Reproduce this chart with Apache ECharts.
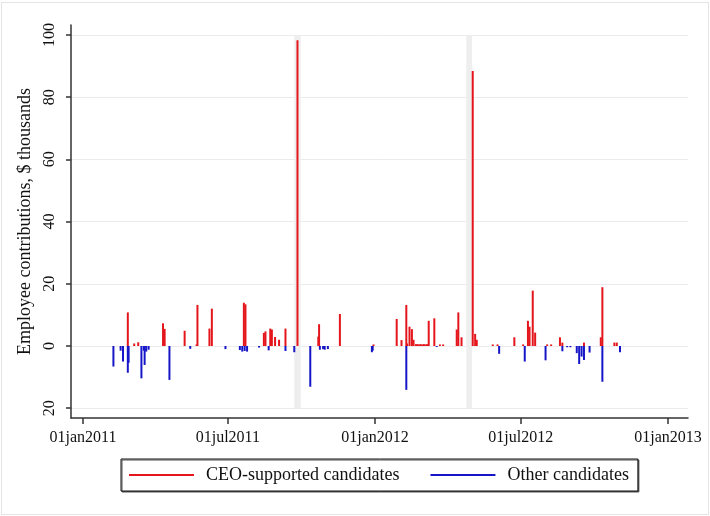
<!DOCTYPE html>
<html>
<head>
<meta charset="utf-8">
<title>Employee contributions</title>
<script src="https://cdn.jsdelivr.net/npm/echarts@6/dist/echarts.min.js"></script>
<style>
    html, body { margin: 0; padding: 0; background: #fff; }
    #frame { position: absolute; left: 1px; top: 2px; width: 706px; height: 511px; border: 1px solid #e4e4e4; }
    #contrib-chart { position: absolute; left: 0; top: 0; width: 710px; height: 516px; }
</style>
</head>
<body>
<div id="frame"></div>
<div id="contrib-chart"></div>
<script>
// CEO-supported candidates (daily totals, $ thousands)
var ceoDates = ['2011-02-26', '2011-03-06', '2011-03-11', '2011-04-11', '2011-04-13', '2011-05-08', '2011-05-23',
    '2011-05-24', '2011-06-08', '2011-06-11', '2011-07-21', '2011-07-23', '2011-08-15', '2011-08-17', '2011-08-23',
    '2011-08-25', '2011-08-29', '2011-09-03', '2011-09-11', '2011-09-26', '2011-10-22', '2011-10-23', '2011-11-18',
    '2011-12-30', '2012-01-28', '2012-02-03', '2012-02-09', '2012-02-10', '2012-02-13', '2012-02-16', '2012-02-18',
    '2012-02-21', '2012-02-23', '2012-02-25', '2012-02-27', '2012-02-29', '2012-03-02', '2012-03-04', '2012-03-06',
    '2012-03-08', '2012-03-15', '2012-03-22', '2012-03-26', '2012-04-12', '2012-04-14', '2012-04-18', '2012-05-02',
    '2012-05-05', '2012-05-07', '2012-05-27', '2012-06-02', '2012-06-23', '2012-07-04', '2012-07-10', '2012-07-12',
    '2012-07-16', '2012-07-19', '2012-08-03', '2012-08-08', '2012-08-19', '2012-08-22', '2012-09-18', '2012-10-09',
    '2012-10-11', '2012-10-26', '2012-10-29'];
var ceoValues = [10.8, 0.8, 1.2, 7.3, 5.5, 4.9, 0.5,
    13.2, 5.6, 12.0, 13.9, 13.4, 4.2, 4.7, 5.6,
    5.3, 2.9, 2.0, 5.6, 98.3, 3.0, 7.0, 10.3,
    0.5, 8.7, 1.9, 13.2, 0.8, 6.2, 5.4, 2.0,
    0.6, 0.6, 0.5, 0.6, 0.5, 0.6, 0.5, 0.6,
    8.1, 8.9, 0.5, 0.5, 5.3, 10.8, 2.8, 88.4,
    3.9, 2.0, 0.5, 0.5, 2.8, 0.5, 8.1, 6.2,
    17.8, 4.3, 0.5, 0.5, 2.8, 1.1, 1.1, 2.8,
    18.9, 1.1, 1.1];

// other candidates (shown below zero)
var otherDates = ['2011-02-08', '2011-02-17', '2011-02-20', '2011-02-26', '2011-02-27', '2011-03-15', '2011-03-18',
    '2011-03-19', '2011-03-21', '2011-03-24', '2011-04-19', '2011-05-15', '2011-06-28', '2011-07-16', '2011-07-19',
    '2011-07-22', '2011-07-25', '2011-08-09', '2011-08-21', '2011-09-11', '2011-09-22', '2011-10-12', '2011-10-24',
    '2011-10-28', '2011-10-30', '2011-11-03', '2011-12-28', '2011-12-29', '2012-02-09', '2012-03-18', '2012-06-04',
    '2012-07-06', '2012-08-01', '2012-08-22', '2012-08-28', '2012-09-01', '2012-09-09', '2012-09-12', '2012-09-15',
    '2012-09-18', '2012-09-25', '2012-10-11', '2012-11-02'];
var otherValues = [-6.6, -1.5, -5.0, -8.6, -5.4, -10.4, -1.5,
    -6.1, -1.8, -1.2, -10.9, -0.9, -1.0, -1.3, -1.8,
    -1.6, -1.8, -0.5, -1.4, -1.6, -2.0, -13.1, -1.2,
    -1.0, -1.2, -1.0, -2.0, -1.5, -14.1, -0.3, -2.5,
    -5.0, -4.6, -1.7, -0.4, -0.4, -2.3, -5.8, -3.4,
    -4.5, -2.1, -11.5, -2.0];

// shaded event windows
var bandStarts = ['2011-09-22', '2012-04-24'];
var bandEnds = ['2011-09-30', '2012-05-01'];

var xTicks = ['2011-01-01', '2011-07-01', '2012-01-01', '2012-07-01', '2013-01-01'];
var yTicks = [-20, 0, 20, 40, 60, 80, 100];
var monthNames = ['jan', 'feb', 'mar', 'apr', 'may', 'jun', 'jul', 'aug', 'sep', 'oct', 'nov', 'dec'];

var serif = 'Liberation Serif';

function toTime(s) {
    var p = s.split('-');
    return new Date(+p[0], +p[1] - 1, +p[2]).getTime();
}

function stataDate(v) {
    var d = new Date(v);
    var day = d.getDate() < 10 ? '0' + d.getDate() : '' + d.getDate();
    return day + monthNames[d.getMonth()] + d.getFullYear();
}

var chart = echarts.init(document.getElementById('contrib-chart'));

var bands = [];
for (var i = 0; i < bandStarts.length; i++) {
    bands.push([{xAxis: toTime(bandStarts[i]), yAxis: -20}, {xAxis: toTime(bandEnds[i]), yAxis: 100}]);
}

var option = {
    animation: false,
    backgroundColor: 'transparent',
    grid: {left: 71, right: 22, top: 25, bottom: 98},
    legend: {
        left: 121,
        top: 459,
        padding: [7, 9, 7, 8],
        borderColor: '#111',
        borderWidth: 1,
        backgroundColor: '#fff',
        shadowColor: '#555',
        shadowOffsetX: 1,
        shadowOffsetY: 1,
        icon: 'rect',
        itemWidth: 65,
        itemHeight: 2,
        itemGap: 31,
        textStyle: {fontFamily: serif, fontSize: 18, color: '#111', padding: [0, 0, 0, 7]},
        data: ['CEO-supported candidates', 'Other candidates']
    },
    xAxis: {
        type: 'value',
        min: toTime('2010-12-17'),
        max: toTime('2013-01-26'),
        axisLine: {onZero: false, lineStyle: {color: '#333', width: 1.5}},
        axisTick: {customValues: xTicks.map(toTime), length: 6, lineStyle: {color: '#333', width: 1.5}},
        axisLabel: {
            customValues: xTicks.map(toTime),
            formatter: stataDate,
            margin: 12,
            fontFamily: serif,
            fontSize: 16,
            color: '#111'
        },
        splitLine: {show: false}
    },
    yAxis: {
        type: 'value',
        min: -23.15,
        max: 103.2,
        name: 'Employee contributions, $ thousands',
        nameLocation: 'middle',
        nameGap: 28,
        nameTextStyle: {fontFamily: serif, fontSize: 18, color: '#111'},
        axisLine: {show: true, lineStyle: {color: '#333', width: 1.5}},
        axisTick: {show: true, customValues: yTicks, length: 5, lineStyle: {color: '#333', width: 1.5}},
        axisLabel: {
            customValues: yTicks,
            rotate: 90,
            margin: 13,
            fontFamily: serif,
            fontSize: 16,
            color: '#111',
            formatter: function (v) { return '' + Math.abs(v); }
        },
        splitLine: {show: true, lineStyle: {color: '#ebebeb', width: 1}}
    },
    series: [
        {
            name: 'CEO-supported candidates',
            type: 'bar',
            barWidth: 2,
            barGap: '-100%',
            itemStyle: {color: '#e4161c'},
            data: ceoDates.map(function (d, k) { return [toTime(d), ceoValues[k]]; }),
            markArea: {
                silent: true,
                itemStyle: {color: '#eeeeee'},
                data: bands
            }
        },
        {
            name: 'Other candidates',
            type: 'bar',
            barWidth: 2,
            barGap: '-100%',
            itemStyle: {color: '#1616c8'},
            data: otherDates.map(function (d, k) { return [toTime(d), otherValues[k]]; })
        }
    ]
};

chart.setOption(option);
</script>
</body>
</html>
